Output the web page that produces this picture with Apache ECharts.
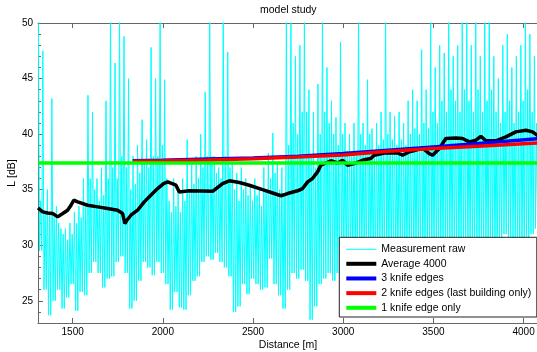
<!DOCTYPE html>
<html>
<head>
<meta charset="utf-8">
<script src="https://cdn.jsdelivr.net/npm/echarts@6/dist/echarts.min.js"></script>
<style>
html,body{margin:0;padding:0;background:#fff;}
#chart{width:537px;height:352px;}
</style>
</head>
<body>
<div id="chart"></div>
<script>
// ---- data ----
const xTicks = [1500, 2000, 2500, 3000, 3500, 4000];
const yTicks = [25, 30, 35, 40, 45, 50];

// Raw measurement, read in 25 m bins: peak, trough, typical upper level, trough
const rawStart = 1310;
const rawStep = 25;
const rawHigh = [
  51, 47.5, 35, 43.2, 33.5, 31.5, 31.5, 32, 33, 33.5,
  36, 43.5, 42, 36, 37, 43, 51, 46.4, 51, 48.8,
  45, 38, 39, 41.3, 39.5, 47.8, 45, 51, 44.9, 34,
  36, 35, 36, 39.5, 37.5, 38, 40, 43.8, 51, 38,
  37, 51, 47.4, 37.5, 36.5, 37, 36, 35.5, 36, 35,
  37, 38.3, 40.1, 37.5, 37, 51, 51, 47, 48, 51,
  44, 42, 44.5, 51, 46, 43, 41.5, 48.3, 41, 40,
  41, 51, 41, 44.9, 40.5, 41, 42, 51, 42, 41.6,
  42, 41, 43, 44, 43, 47.6, 44, 51, 46, 48,
  47.3, 51, 47, 48, 51, 51, 48, 51, 47, 51,
  51, 47, 45, 48, 49, 46, 47, 48, 51, 49,
  47
];
const rawMid = [
  34, 33, 33, 32.5, 32, 31, 30.5, 31, 32, 32.5,
  33.5, 36, 35, 34, 34.5, 36, 37, 36, 38, 37,
  35, 35.5, 36.5, 37.5, 37, 38, 38, 39, 36, 33,
  33.5, 33, 34, 35, 35.5, 36, 37, 38, 38, 36.5,
  36, 38, 37, 35, 34, 35, 34.5, 34, 34.5, 33.5,
  35, 36, 36.5, 35, 34.5, 39, 41, 40, 42, 42,
  38, 37, 40, 42, 41, 40, 39, 40, 38.5, 38,
  38.5, 40, 39, 40, 38.5, 39, 39.5, 40, 39.5, 39,
  39.5, 39, 40, 40.5, 40, 41, 40.5, 42, 41, 43,
  42, 44, 43, 42, 44, 43, 42, 44, 42, 43,
  44, 42, 41, 42, 43, 41, 42, 43, 44, 42,
  41
];
const rawLow = [
  29.5, 26, 23.7, 25, 26, 24.3, 25.3, 26.5, 24.1, 25.8,
  25.5, 27.5, 28.5, 27.5, 26.2, 27, 27.2, 28.5, 29, 27.5,
  24.3, 25, 26.8, 28.5, 28, 27.3, 28.5, 27.5, 26.5, 24.2,
  25.8, 24.4, 24.2, 25.5, 26.8, 27.2, 28.5, 29, 28.7, 29.3,
  28.5, 28, 27.2, 24, 24.5, 26.5, 25.6, 27, 26.5, 26,
  26.2, 28.8, 26.5, 25.5, 24.3, 26, 27.5, 27, 27.8, 26.8,
  23.3, 24.5, 26.5, 27, 27.5, 26.8, 27.5, 28, 28, 28.5,
  28, 28.5, 28, 28.5, 28, 29, 28, 28.5, 29, 28,
  28.5, 28, 29, 28, 28.5, 28, 29, 28, 28.5, 28,
  29, 28, 28.5, 28, 29, 28, 28.5, 28, 29, 28,
  28.5, 28, 30, 31, 30.5, 30, 29, 28.5, 29, 31,
  31.5
];

const avgDist = [1308, 1334, 1361, 1389, 1417, 1445, 1472, 1491, 1506, 1528,
  1583, 1639, 1694, 1749, 1777, 1790, 1801, 1823, 1860, 1897,
  1943, 1971, 2004, 2027, 2073, 2091, 2147, 2276, 2331, 2369,
  2424, 2479, 2553, 2609, 2655, 2692, 2747, 2775, 2803, 2830,
  2858, 2876, 2904, 2932, 2969, 2997, 3024, 3061, 3117, 3153,
  3172, 3228, 3301, 3329, 3366, 3390, 3440, 3477, 3496, 3533,
  3569, 3625, 3662, 3699, 3736, 3763, 3791, 3846, 3902, 3957,
  4013, 4050, 4080];
const avgVal = [33.35, 33.0, 32.9, 32.85, 32.55, 32.85, 33.15, 33.6, 34.05, 33.9,
  33.6, 33.45, 33.3, 33.15, 32.85, 31.95, 32.25, 32.7, 33.15, 33.9,
  34.65, 35.1, 35.55, 35.7, 35.4, 34.8, 34.9, 34.85, 35.55, 35.8,
  35.65, 35.4, 35.0, 34.7, 34.45, 34.65, 34.9, 35.1, 35.7, 36.0,
  36.6, 37.2, 37.4, 37.6, 37.4, 37.65, 37.2, 37.35, 37.7, 37.8,
  38.1, 38.3, 38.3, 38.1, 38.4, 38.5, 38.75, 38.25, 38.1, 38.7,
  39.6, 39.65, 39.6, 39.3, 39.45, 39.8, 39.4, 39.4, 39.75, 40.2,
  40.35, 40.2, 39.85];

const modelDist = [1833, 2000, 2250, 2500, 2750, 3000, 3250, 3500, 3750, 4080];
const knife3 = [37.6, 37.65, 37.75, 37.85, 38.0, 38.25, 38.55, 38.85, 39.15, 39.6];
const knife2 = [37.55, 37.6, 37.68, 37.78, 37.93, 38.13, 38.45, 38.7, 38.9, 39.2];
const knife1Dist = [1308, 4080];
const knife1 = [37.4, 37.4];

const names = ['Measurement raw', 'Average 4000', '3 knife edges',
  '2 knife edges (last building only)', '1 knife edge only'];

// ---- build series data ----
const rawData = [];
for (let i = 0; i < rawHigh.length; i++) {
  const d = rawStart + i * rawStep;
  rawData.push([d, rawHigh[i]]);
  rawData.push([d + rawStep * 0.25, rawLow[i]]);
  rawData.push([d + rawStep * 0.5, rawMid[i]]);
  rawData.push([d + rawStep * 0.75, rawLow[i]]);
}
const zip = (xs, ys) => xs.map((x, i) => [x, ys[i]]);

const FONT = 'Liberation Sans, Arial, Helvetica, sans-serif';
const AX = '#666';
const plain = v => String(v);

const chart = echarts.init(document.getElementById('chart'), null, {renderer: 'canvas'});
chart.setOption({
  animation: false,
  backgroundColor: '#fff',
  textStyle: {fontFamily: FONT},
  title: {
    text: 'model study',
    left: 260, top: 5,
    padding: 0,
    textStyle: {fontSize: 10.5, fontWeight: 'normal', color: '#000', fontFamily: FONT}
  },
  grid: {left: 38, top: 23, width: 500, height: 300, containLabel: false, outerBoundsMode: 'none'},
  legend: [
    {
      data: [names[0]],
      orient: 'vertical', left: 339.3, top: 237.3,
      padding: [6, 0, 0, 7],
      itemWidth: 30, itemHeight: 1, itemGap: 2.67,
      icon: 'rect', selectedMode: false, z: 10,
      textStyle: {fontSize: 10.5, color: '#000', fontFamily: FONT, lineHeight: 12}
    },
    {
      data: names.slice(1),
      orient: 'vertical', left: 339.3, top: 237.3,
      padding: [20.5, 5.5, 3.2, 7],
      itemWidth: 30, itemHeight: 4, itemGap: 2.67,
      icon: 'rect', selectedMode: false, z: 9,
      backgroundColor: '#fff', borderColor: '#222', borderWidth: 1,
      textStyle: {fontSize: 10.5, color: '#000', fontFamily: FONT, lineHeight: 12}
    }
  ],
  xAxis: [
    {
      type: 'value', min: 1308, max: 4080, position: 'bottom',
      name: 'Distance [m]', nameLocation: 'middle', nameGap: 17, nameMoveOverlap: false,
      nameTextStyle: {fontSize: 10.5, color: '#000', fontFamily: FONT},
      axisLine: {show: true, lineStyle: {color: AX, width: 1}},
      axisTick: {show: true, inside: true, length: 5, customValues: xTicks, lineStyle: {color: AX}},
      axisLabel: {customValues: xTicks, formatter: plain, margin: 4, fontSize: 10, color: '#000', fontFamily: FONT},
      splitLine: {show: false}
    },
    {
      type: 'value', min: 1308, max: 4080, position: 'top',
      axisLine: {show: true, lineStyle: {color: AX, width: 1}},
      axisTick: {show: true, inside: true, length: 5, customValues: xTicks, lineStyle: {color: AX}},
      axisLabel: {show: false},
      splitLine: {show: false}
    }
  ],
  yAxis: [
    {
      type: 'value', min: 23, max: 50, position: 'left',
      name: 'L [dB]', nameLocation: 'middle', nameGap: 20, nameRotate: 90, nameMoveOverlap: false,
      nameTextStyle: {fontSize: 10.5, color: '#000', fontFamily: FONT},
      axisLine: {show: true, lineStyle: {color: AX, width: 1}},
      axisTick: {show: true, inside: true, length: 5, customValues: yTicks, lineStyle: {color: AX}},
      axisLabel: {customValues: yTicks, formatter: plain, margin: 5, fontSize: 10, color: '#000', fontFamily: FONT},
      splitLine: {show: false}
    },
    {
      type: 'value', min: 23, max: 50, interval: 1, position: 'left', offset: 0,
      axisLine: {show: false},
      axisTick: {show: true, inside: true, length: 3, lineStyle: {color: AX}},
      axisLabel: {show: false},
      splitLine: {show: false}
    }
  ],
  series: [
    {
      name: names[0], type: 'line', data: rawData, color: '#00ffff',
      symbol: 'none', lineStyle: {width: 1, color: '#00ffff'}, clip: true
    },
    {
      name: names[1], type: 'line', data: zip(avgDist, avgVal), color: '#000000',
      symbol: 'none', lineStyle: {width: 3.5, color: '#000000'}, clip: true
    },
    {
      name: names[2], type: 'line', data: zip(modelDist, knife3), color: '#0000ff',
      symbol: 'none', lineStyle: {width: 3.5, color: '#0000ff'}, clip: true
    },
    {
      name: names[3], type: 'line', data: zip(modelDist, knife2), color: '#ff0000',
      symbol: 'none', lineStyle: {width: 3.5, color: '#ff0000'}, clip: true
    },
    {
      name: names[4], type: 'line', data: zip(knife1Dist, knife1), color: '#00ff00',
      symbol: 'none', lineStyle: {width: 3.5, color: '#00ff00'}, clip: true
    }
  ]
});
</script>
</body>
</html>
